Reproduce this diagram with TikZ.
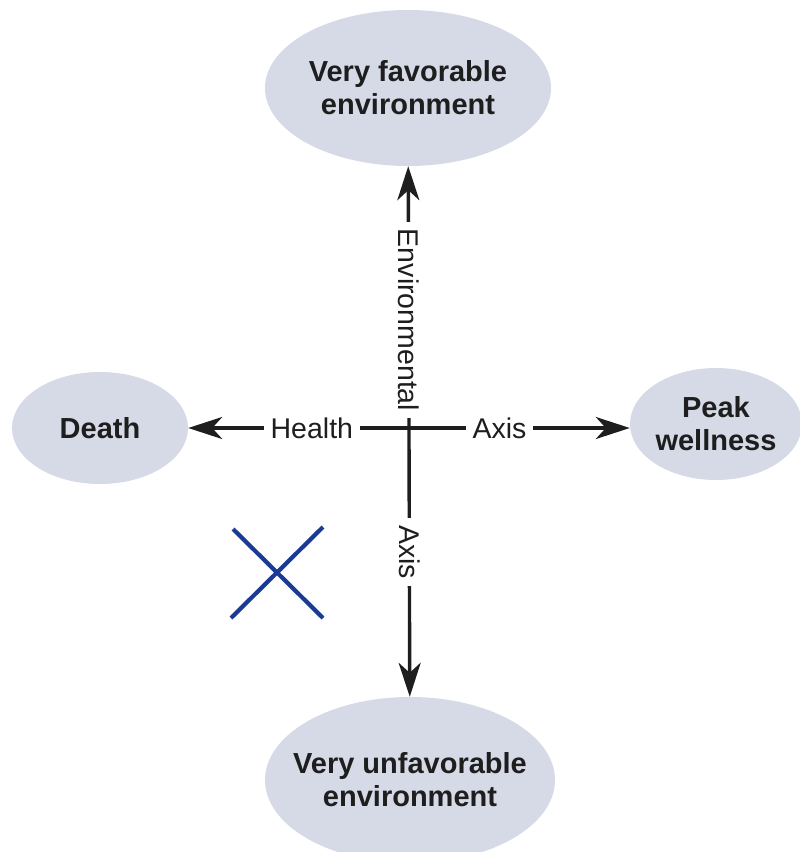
\documentclass[tikz,border=0pt]{standalone}
\usepackage{fontspec}
\setmainfont{Liberation Sans}
\usepackage{tikz}
\usetikzlibrary{shapes.geometric}
\usetikzlibrary{arrows.meta}

\definecolor{bubble}{HTML}{D6DAE7}
\definecolor{crossblue}{HTML}{1B3A94}
\definecolor{ink}{HTML}{1E1E1E}

\begin{document}
\begin{tikzpicture}[x=1pt,y=-1pt,
  state/.style={ellipse,fill=bubble,inner xsep=-30pt,inner ysep=0pt,align=center,text=ink,
    font=\fontsize{29}{33}\selectfont\bfseries},
  axisline/.style={line width=3.4pt,draw=ink,
    {Stealth[length=34pt,width=22pt,inset=10pt]}-{Stealth[length=34pt,width=22pt,inset=10pt]}},
  axislabel/.style={fill=white,inner sep=7pt,text=ink,
    font=\fontsize{28.5}{34}\selectfont}]
  \useasboundingbox (0,0) rectangle (800,852);

  %states
  \node[state,minimum width=286pt,minimum height=156pt] (fav) at (408,88) {Very favorable\\environment};
  \node[state,minimum width=290pt,minimum height=166pt] (unfav) at (410,780) {Very unfavorable\\environment};
  \node[state,minimum width=176pt,minimum height=112pt] (death) at (100,428) {Death};
  \node[state,minimum width=172pt,minimum height=112pt] (peak) at (716,424) {Peak\\wellness};

  %axes
  \draw[axisline] (death) -- (death -| peak.west)
    node[axislabel,pos=0.28] (health) {Health}
    node[axislabel,pos=0.705] (haxis) {Axis};
  \draw[axisline] (fav) -- (unfav)
    node[axislabel,rotate=-90,pos=0.29] (env) {Environmental}
    node[axislabel,rotate=-90,pos=0.727] (vaxis) {Axis};

  %cross
  \coordinate (c1) at (233,529);
  \coordinate (c2) at (323,618);
  \coordinate (c3) at (323,527);
  \coordinate (c4) at (231,618);
  \draw[crossblue,line width=4.2pt] (c1) -- (c2) (c3) -- (c4);
\end{tikzpicture}
\end{document}
